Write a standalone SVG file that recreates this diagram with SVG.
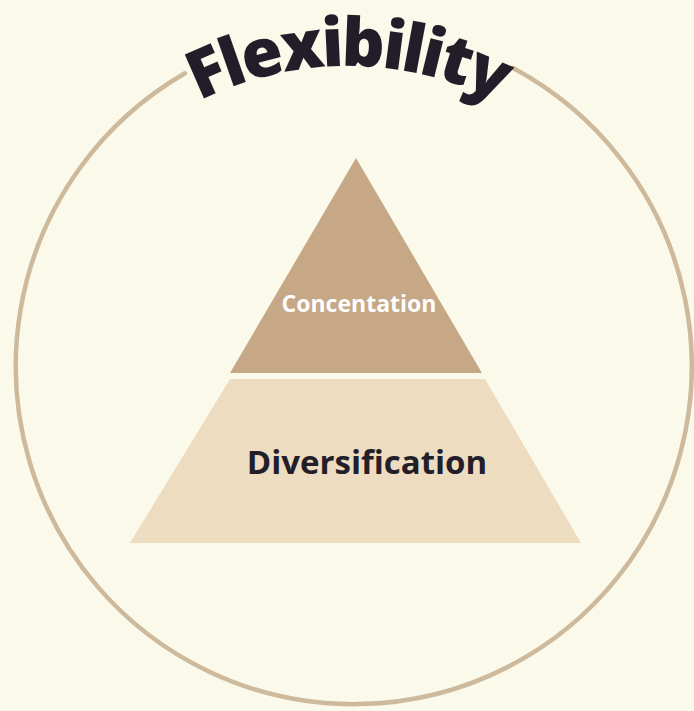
<svg xmlns="http://www.w3.org/2000/svg" width="694" height="711" viewBox="0 0 694 711">
  <defs>
    <style>
      .ring { fill: none; stroke: #CDB99B; stroke-width: 4.5; stroke-linecap: round; }
      .title { font-family: "Open Sans", "Liberation Sans", sans-serif; font-weight: 800; fill: #221D29; letter-spacing: -3.2px; }
      .lbl { font-family: "Open Sans", "Liberation Sans", sans-serif; font-weight: 700; text-anchor: middle; }
    </style>
    <path id="titleArc" d="M 15 399 A 333 333 0 0 1 681 399"/>
  </defs>
  <rect x="0" y="0" width="694" height="711" fill="#FBF9EA"/>
  <g id="ring">
    <path class="ring" d="M 513 68 A 338 338 0 1 1 185 73.3"/>
  </g>
  <g id="title">
    <text class="title" font-size="67"><textPath href="#titleArc" startOffset="50%" text-anchor="middle">Flexibility</textPath></text>
  </g>
  <g id="connectors"></g>
  <g id="concentration">
    <polygon points="356,158 482,373 230,373" fill="#C6A887"/>
    <text class="lbl" x="359" y="312" font-size="23" fill="#FFFFFF">Concentation</text>
  </g>
  <g id="diversification">
    <polygon points="230,379 485,379 581,543 130,543" fill="#EDDCBF"/>
    <text class="lbl" x="367" y="474" font-size="33" fill="#231E2A">Diversification</text>
  </g>
</svg>
